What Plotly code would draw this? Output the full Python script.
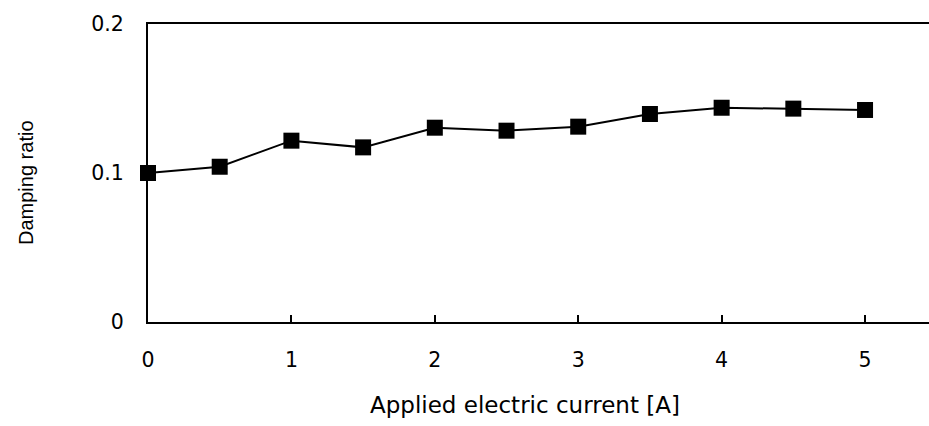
import plotly.graph_objects as go

current = [0, 0.5, 1, 1.5, 2, 2.5, 3, 3.5, 4, 4.5, 5]
damping = [0.1000, 0.1042, 0.1217, 0.1172, 0.1304, 0.1284, 0.1311, 0.1396, 0.1438, 0.1432, 0.1423]
x_ticks = [0, 1, 2, 3, 4, 5]
y_ticks = [0, 0.1, 0.2]
y_tick_labels = ["0", "0.1", "0.2"]

FONT = "DejaVu Sans, Liberation Sans, Arial, sans-serif"
FONT2 = "Liberation Sans, Arial, sans-serif"

fig = go.Figure()
fig.add_trace(go.Scatter(
    x=current, y=damping, mode="lines+markers",
    line=dict(color="black", width=2),
    marker=dict(symbol="square", size=16, color="black"),
    showlegend=False, cliponaxis=False,
))

fig.update_layout(
    width=929, height=426,
    margin=dict(l=148, r=0, t=24, b=104),
    paper_bgcolor="white", plot_bgcolor="white",
    font=dict(family=FONT, size=20, color="black"),
    xaxis=dict(
        range=[0, 5.446], tickvals=x_ticks, ticks="inside", ticklen=7, tickwidth=2,
        tickcolor="black", showline=True, linecolor="black", linewidth=2, mirror=True,
        showgrid=False, zeroline=False, ticklabelstandoff=18,
        tickfont=dict(family=FONT, size=20.5, color="black"),
    ),
    yaxis=dict(
        range=[0, 0.2], tickvals=y_ticks, ticktext=y_tick_labels, ticks="",
        showline=True, linecolor="black", linewidth=2, showgrid=False, zeroline=False,
        ticklabelstandoff=18,
        tickfont=dict(family=FONT, size=20.5, color="black"),
    ),
    annotations=[
        dict(text="Applied electric current [A]", xref="paper", yref="paper",
             x=(525 - 148) / 781, y=-(405 - 322) / 298, xanchor="center", yanchor="middle",
             showarrow=False, font=dict(family=FONT, size=23, color="black")),
        dict(text="Damping ratio", xref="paper", yref="paper",
             x=-(148 - 26) / 781, y=(322 - 183) / 298, xanchor="center", yanchor="middle",
             textangle=-90, showarrow=False, font=dict(family=FONT2, size=20, color="black")),
    ],
)

fig.write_html("out.html")
